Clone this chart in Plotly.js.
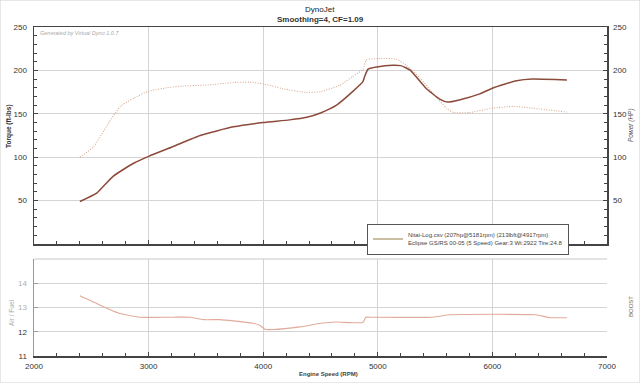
<!DOCTYPE html>
<html><head><meta charset="utf-8">
<script src="https://cdn.plot.ly/plotly-3.0.1.min.js"></script>
<style>html,body{margin:0;padding:0;background:#fff;}#chart{width:640px;height:383px;}</style>
</head><body><div id="chart"></div>
<script>
// ---- data ----
const torqueRpm = [2400,2520,2630,2750,2870,3000,3160,3300,3500,3740,3880,4000,4170,4380,4500,4670,4780,4870,4900,4990,5160,5250,5370,5480,5600,5660,5800,6000,6180,6350,6650];
const torque    = [100,112,135,158,168,176,180,182,183,186,186.5,184.5,179,174.5,175.5,183,193,201,212,213.5,213,206,191,174,156.5,151.5,151.5,156.5,158.5,156.5,152];
const powerRpm  = [2400,2550,2690,2870,3000,3210,3450,3740,4000,4230,4380,4500,4640,4780,4870,4885,4915,4990,5130,5200,5280,5420,5540,5610,5710,5890,6000,6210,6350,6650];
const power     = [49,59,78,93,101,112,125,135,140,143,146,151,160,175.5,187,193,201.5,204,206,205.5,200.5,179.5,167,163.5,166,173,179.5,188,190,189];
const afrRpm    = [2400,2575,2750,2920,3210,3360,3480,3620,3740,3910,3970,4015,4090,4320,4500,4640,4870,4895,4930,5480,5630,6380,6500,6650];
const afr       = [13.48,13.1,12.75,12.6,12.6,12.6,12.5,12.5,12.45,12.35,12.27,12.1,12.09,12.2,12.35,12.4,12.38,12.6,12.6,12.6,12.7,12.7,12.58,12.58];
const xTicks    = [2000,3000,4000,5000,6000,7000];
const topTicks  = [50,100,150,200,250];
const afrTicks  = [11,12,13,14];
const afrTickText = ['11','12','<span style="color:#b0b0b0">13</span>','<span style="color:#b0b0b0">14</span>'];
const legendText = 'Nitai-Log.csv (207hp@5181rpm) (213lbft@4917rpm)<br>Eclipse GS/RS 00-05 (5 Speed) Gear:3 Wt:2922 Tire:24.8';

const W = 640, H = 383;
const px = v => v / W, py = v => 1 - v / H;
const FONT = 'Liberation Sans, Arial, sans-serif';

const traces = [
  {x: torqueRpm, y: torque, xaxis: 'x2', yaxis: 'y', mode: 'lines', showlegend: false,
   line: {color: '#d8a890', width: 1.1, dash: '1px,1.5px', shape: 'spline', smoothing: 0.5}},
  {x: powerRpm, y: power, xaxis: 'x2', yaxis: 'y3', mode: 'lines', showlegend: false,
   line: {color: '#8c4a3a', width: 1.5, shape: 'spline', smoothing: 0.5}},
  {x: afrRpm, y: afr, xaxis: 'x', yaxis: 'y2', mode: 'lines', showlegend: false,
   line: {color: '#e2aa9a', width: 1.1, shape: 'spline', smoothing: 0.4}},
  {x: [null], y: [null], xaxis: 'x2', yaxis: 'y', mode: 'lines', name: legendText, showlegend: true,
   line: {color: '#b8a985', width: 1.5}}
];

const gridc = '#d4d4d4', linec = '#444';
const minorTop = {dtick: 10, ticks: 'inside', ticklen: 3, tickcolor: linec, showgrid: false};
const minorX = {dtick: 200, ticks: 'inside', ticklen: 3, tickcolor: linec, showgrid: false};
const tf = {family: FONT, size: 8, color: '#333'};

function ann(text, x, y, size, color, angle) {
  return {text: text, x: px(x), y: py(y), xref: 'paper', yref: 'paper', xanchor: 'center', yanchor: 'middle',
    showarrow: false, textangle: angle || 0, font: {family: FONT, size: size, color: color}};
}

const layout = {
  width: W, height: H, autosize: false,
  margin: {l: 0, r: 0, t: 0, b: 0},
  paper_bgcolor: '#fff', plot_bgcolor: '#fff',
  showlegend: true,
  legend: {x: px(367), y: py(223.5), xanchor: 'left', yanchor: 'top',
    bgcolor: '#fff', bordercolor: '#555', borderwidth: 1,
    font: {family: FONT, size: 6, color: '#444'}, itemwidth: 30, tracegroupgap: 0},
  xaxis: {domain: [px(34), px(607)], anchor: 'y2', range: [2000, 7000], tickvals: xTicks,
    tickfont: tf, showgrid: true, gridcolor: gridc, zeroline: false,
    showline: true, linecolor: linec, linewidth: 1.5, ticks: 'inside', ticklen: 4, tickcolor: linec,
    minor: minorX, ticklabelstandoff: 2},
  xaxis2: {domain: [px(34), px(607)], anchor: 'y', matches: 'x', range: [2000, 7000], tickvals: xTicks,
    showticklabels: false, showgrid: true, gridcolor: gridc, zeroline: false,
    showline: true, mirror: true, linecolor: linec, linewidth: 1.5, ticks: 'inside', ticklen: 4, tickcolor: linec,
    minor: minorX},
  yaxis: {domain: [py(244), py(27)], anchor: 'x2', range: [0, 250], tickvals: topTicks,
    tickfont: tf, showgrid: true, gridcolor: gridc, zeroline: false,
    showline: true, linecolor: linec, linewidth: 1.5, ticks: 'inside', ticklen: 4, tickcolor: linec,
    minor: minorTop, ticklabelstandoff: 4},
  yaxis3: {overlaying: 'y', side: 'right', anchor: 'x2', range: [0, 250], tickvals: topTicks,
    tickfont: tf, showgrid: false, zeroline: false,
    showline: true, linecolor: linec, linewidth: 1.5, ticks: 'inside', ticklen: 4, tickcolor: linec,
    minor: minorTop, ticklabelstandoff: 3},
  yaxis2: {domain: [py(356), py(259)], anchor: 'x', range: [11, 15], tickvals: afrTicks, ticktext: afrTickText,
    tickfont: tf, showgrid: true, gridcolor: gridc, zeroline: false,
    showline: true, linecolor: '#999', linewidth: 1.5, ticks: 'inside', ticklen: 4, tickcolor: '#999',
    ticklabelstandoff: 4},
  yaxis4: {overlaying: 'y2', side: 'right', anchor: 'x', range: [0, 20], tickvals: [0],
    tickfont: {family: FONT, size: 7, color: '#777'}, showgrid: false, zeroline: false,
    showline: true, linecolor: linec, linewidth: 1.5, ticks: 'inside', ticklen: 4, tickcolor: linec,
    minor: {dtick: 1, ticks: 'inside', ticklen: 3, tickcolor: linec, showgrid: false}, ticklabelstandoff: 3},
  shapes: [
    {type: 'line', xref: 'paper', yref: 'paper', x0: px(34), x1: px(607), y0: py(259), y1: py(259),
     line: {color: '#c8c8c8', width: 1}},
    {type: 'rect', xref: 'paper', yref: 'paper', x0: 0, x1: 1, y0: 0, y1: 1,
     line: {color: '#cfcfcf', width: 1}}
  ],
  annotations: [
    ann('DynoJet', 320, 9, 8, '#222'),
    ann('<b>Smoothing=4, CF=1.09</b>', 320, 19, 8, '#333'),
    Object.assign(ann('<i>Generated by Virtual Dyno 1.0.7</i>', 38, 33, 5.5, '#aaa'), {xanchor: 'left'}),
    ann('<b>Torque (ft-lbs)</b>', 9, 126, 6.5, '#333', -90),
    ann('<i>Power (HP)</i>', 631, 125, 6.5, '#555', -90),
    ann('Air / Fuel', 11, 313, 6.5, '#aaa', -90),
    ann('BOOST', 631, 307, 6, '#666', -90),
    ann('<b>Engine Speed (RPM)</b>', 328, 374, 6, '#444')
  ]
};

Plotly.newPlot('chart', traces, layout, {staticPlot: true, displayModeBar: false});
</script>
</body></html>
